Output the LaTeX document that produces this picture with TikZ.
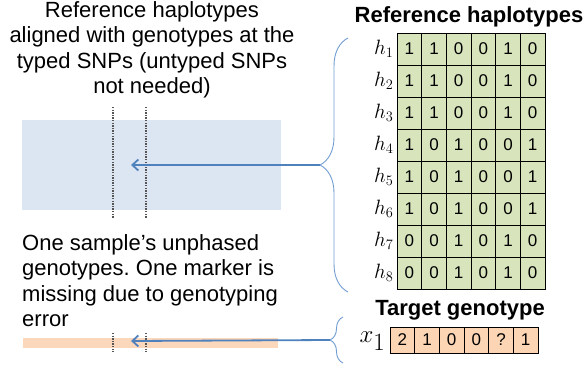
\documentclass[tikz,border=0pt]{standalone}
\usepackage{fontspec}
\setmainfont{Liberation Sans}
\usepackage{xcolor}
\usetikzlibrary{calc,arrows.meta,positioning,decorations.pathreplacing}
\definecolor{cellGreen}{RGB}{216,228,188}
\definecolor{cellPeach}{RGB}{252,213,181}
\definecolor{bandBlue}{RGB}{220,230,242}
\definecolor{bandPeach}{RGB}{251,215,187}
\definecolor{arrowBlue}{RGB}{79,129,189}
\definecolor{braceBlue}{RGB}{112,156,210}
\definecolor{markGray}{RGB}{85,85,85}
\newcommand{\BigText}{\fontsize{22}{25.5}\selectfont}
\frenchspacing
\tikzset{
  cell/.style={draw=black,line width=1pt,minimum width=24.67pt,inner sep=0pt,font=\fontsize{17}{17}\selectfont},
  hapcell/.style={cell,fill=cellGreen,minimum height=32pt},
  tgtcell/.style={cell,fill=cellPeach,minimum height=26pt},
  rowlab/.style={anchor=east,inner sep=1pt,font=\fontsize{21}{21}\selectfont},
  marker/.style={draw=markGray,line width=2.2pt,dash pattern=on 1.3pt off 1.3pt},
  bracket/.style={draw=braceBlue,line width=0.9pt,decorate},
  linkarrow/.style={draw=arrowBlue,line width=1.8pt,-{Straight Barb[length=6pt,width=11pt]}}
}

\begin{document}
\begin{tikzpicture}[x=1pt,y=-1pt]
\useasboundingbox (0,0) rectangle (586,367);

\node[align=center,anchor=north,inner sep=0pt,font=\BigText] (reftext) at (152,1) {Reference haplotypes\\aligned with genotypes at the\\typed SNPs (untyped SNPs\\not needed)};
\node[fill=bandBlue,anchor=north west,inner sep=0pt,minimum width=259pt,minimum height=90pt] (refband) at (22,120) {};
\node[align=left,anchor=north west,inner sep=0pt,font=\BigText] (tgttext) at (22,234) {One sample's unphased\\genotypes. One marker is\\missing due to genotyping\\error};
\node[fill=bandPeach,anchor=north west,inner sep=0pt,minimum width=255pt,minimum height=10pt] (tgtband) at (23,338) {};

\foreach \mx in {113,146} {
  \coordinate (mtop-\mx) at (\mx,107);
  \coordinate (mbot-\mx) at (\mx,218);
  \draw[marker] (mtop-\mx) -- (mbot-\mx);
  \coordinate (ttop-\mx) at (\mx,333);
  \coordinate (tbot-\mx) at (\mx,352);
  \draw[marker] (ttop-\mx) -- (tbot-\mx);
}

\node[font=\bfseries\BigText,inner sep=0pt] (reftitle) at (469,17) {Reference haplotypes};
\foreach \row/\vals in {1/{1,1,0,0,1,0},2/{1,1,0,0,1,0},3/{1,1,0,0,1,0},4/{1,0,1,0,0,1},5/{1,0,1,0,0,1},6/{1,0,1,0,0,1},7/{0,0,1,0,1,0},8/{0,0,1,0,1,0}} {
  \foreach \v [count=\col] in \vals {
    \node[hapcell] (h-\row-\col) at ({397+12.335+(\col-1)*24.67},{33+16+(\row-1)*32}) {\v};
  }
  \node[rowlab] (lab-\row) at ([xshift=-2pt]h-\row-1.west) {$h_{\row}$};
}

\node[font=\bfseries\BigText,inner sep=0pt] (tgttitle) at (460,310) {Target genotype};
\foreach \v [count=\col] in {2,1,0,0,?,1} {
  \node[tgtcell] (x-\col) at ({390+12.335+(\col-1)*24.67},340) {\v};
}
\node[anchor=east,inner sep=1pt,font=\fontsize{26}{26}\selectfont] (xlab) at ([xshift=-3pt,yshift=-1pt]x-1.west) {$x_{\textstyle 1}$};

\coordinate (refbrace-bot) at (348,292);
\coordinate (refbrace-top) at (348,38);
\coordinate (reftip) at (320,165);
\coordinate (refhit) at (131,165);
\draw[bracket,decoration={brace,amplitude=28pt}] (refbrace-bot) -- (refbrace-top);
\draw[linkarrow] (reftip) -- (refhit);

\coordinate (tgtbrace-bot) at (343,363);
\coordinate (tgtbrace-top) at (343,317);
\coordinate (tgttip) at (330,340);
\coordinate (tgthit) at (131,341);
\draw[bracket,decoration={brace,amplitude=13pt}] (tgtbrace-bot) -- (tgtbrace-top);
\draw[linkarrow] (tgttip) -- (tgthit);
\end{tikzpicture}
\end{document}
